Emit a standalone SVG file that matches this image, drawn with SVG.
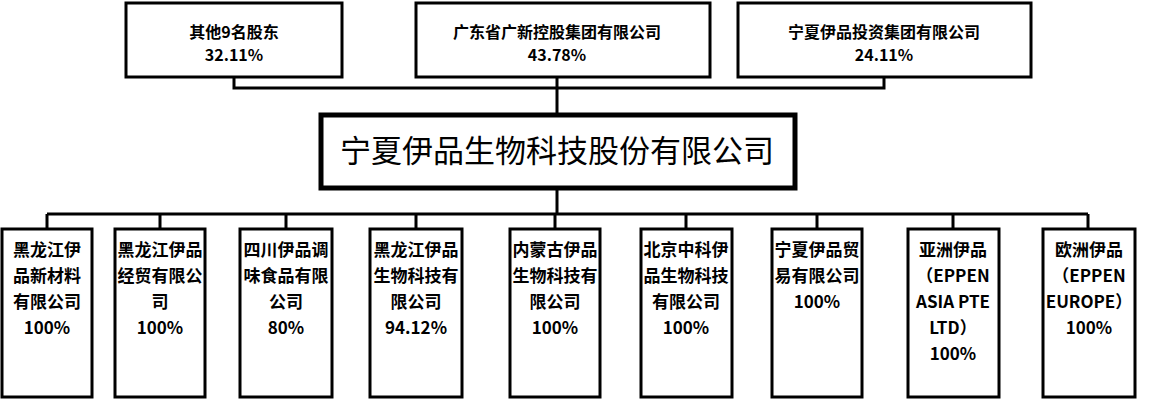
<svg xmlns="http://www.w3.org/2000/svg" width="1150" height="402" viewBox="0 0 1150 402">
<style>
.b{fill:#fff;stroke:#000;stroke-width:3}
.m{fill:#fff;stroke:#000;stroke-width:5}
.t{font-family:"Noto Sans CJK SC","Liberation Sans",sans-serif;font-size:16px;font-weight:bold;text-anchor:middle;fill:#000}
.c{font-size:17px}
.l{fill:none;stroke:#000;stroke-width:3}
</style>
<rect width="1150" height="402" fill="#fff"/>
<g id="connectors">
<path class="l" d="M234 77V88H884V77M557 77V114M557 189V214M47 214H1088M47 214V229M160 214V229M286 214V229M416 214V229M555 214V229M686 214V229M817 214V229M953 214V229M1088 214V229"/>
</g>
<g id="s1"><rect class="b" x="126" y="3" width="216" height="74"/><text class="t" x="234" y="38">其他9名股东</text><text class="t" x="234" y="61">32.11%</text></g>
<g id="s2"><rect class="b" x="416" y="3" width="294" height="74"/><text class="t" x="557" y="38">广东省广新控股集团有限公司</text><text class="t" x="557" y="61">43.78%</text></g>
<g id="s3"><rect class="b" x="738" y="3" width="293" height="74"/><text class="t" x="884" y="38">宁夏伊品投资集团有限公司</text><text class="t" x="884" y="61">24.11%</text></g>
<g id="main"><rect class="m" x="321" y="115" width="474" height="73"/><text x="557" y="162" font-family="'Noto Sans CJK SC',sans-serif" font-size="31" text-anchor="middle">宁夏伊品生物科技股份有限公司</text></g>
<g id="c1"><rect class="b" x="2" y="229" width="90" height="168"/><text class="t c" x="47"><tspan x="47" y="256">黑龙江伊</tspan><tspan x="47" y="282">品新材料</tspan><tspan x="47" y="308">有限公司</tspan><tspan x="47" y="334">100%</tspan></text></g>
<g id="c2"><rect class="b" x="115" y="229" width="90" height="168"/><text class="t c"><tspan x="160" y="256">黑龙江伊品</tspan><tspan x="160" y="282">经贸有限公</tspan><tspan x="160" y="308">司</tspan><tspan x="160" y="334">100%</tspan></text></g>
<g id="c3"><rect class="b" x="240" y="229" width="92" height="168"/><text class="t c"><tspan x="286" y="256">四川伊品调</tspan><tspan x="286" y="282">味食品有限</tspan><tspan x="286" y="308">公司</tspan><tspan x="286" y="334">80%</tspan></text></g>
<g id="c4"><rect class="b" x="370" y="229" width="92" height="168"/><text class="t c"><tspan x="416" y="256">黑龙江伊品</tspan><tspan x="416" y="282">生物科技有</tspan><tspan x="416" y="308">限公司</tspan><tspan x="416" y="334">94.12%</tspan></text></g>
<g id="c5"><rect class="b" x="510" y="229" width="90" height="168"/><text class="t c"><tspan x="555" y="256">内蒙古伊品</tspan><tspan x="555" y="282">生物科技有</tspan><tspan x="555" y="308">限公司</tspan><tspan x="555" y="334">100%</tspan></text></g>
<g id="c6"><rect class="b" x="641" y="229" width="91" height="168"/><text class="t c"><tspan x="686" y="256">北京中科伊</tspan><tspan x="686" y="282">品生物科技</tspan><tspan x="686" y="308">有限公司</tspan><tspan x="686" y="334">100%</tspan></text></g>
<g id="c7"><rect class="b" x="772" y="229" width="90" height="168"/><text class="t c"><tspan x="817" y="256">宁夏伊品贸</tspan><tspan x="817" y="282">易有限公司</tspan><tspan x="817" y="308">100%</tspan></text></g>
<g id="c8"><rect class="b" x="908" y="229" width="91" height="168"/><text class="t c"><tspan x="953" y="256">亚洲伊品</tspan><tspan x="953" y="282">（EPPEN</tspan><tspan x="953" y="308">ASIA PTE</tspan><tspan x="953" y="334">LTD）</tspan><tspan x="953" y="360">100%</tspan></text></g>
<g id="c9"><rect class="b" x="1043" y="229" width="92" height="168"/><text class="t c"><tspan x="1089" y="256">欧洲伊品</tspan><tspan x="1089" y="282">（EPPEN</tspan><tspan x="1089" y="308">EUROPE）</tspan><tspan x="1089" y="334">100%</tspan></text></g>
</svg>
